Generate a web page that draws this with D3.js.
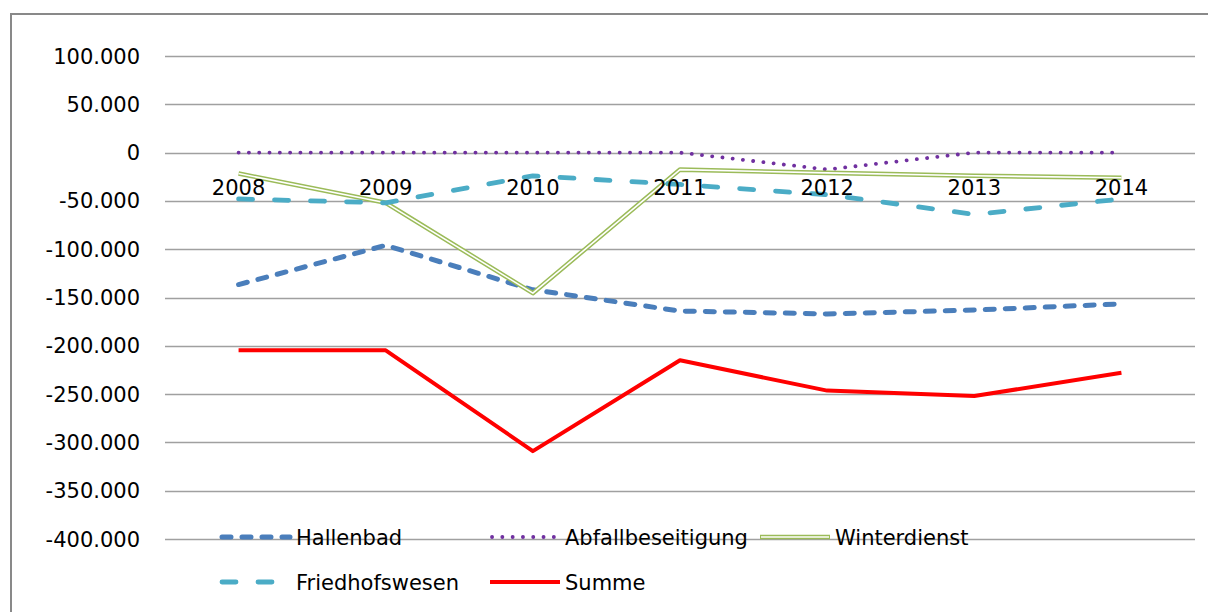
<!DOCTYPE html>
<html>
<head>
<meta charset="utf-8">
<script src="https://cdn.jsdelivr.net/npm/d3@7"></script>
<style>
  html, body { margin: 0; padding: 0; background: #fff; }
  svg { display: block; }
  text { font-family: "DejaVu Sans", sans-serif; font-size: 21px; fill: #000; }
</style>
</head>
<body>
<div id="chart"></div>
<script>
'use strict';

// values
var years = ['2008', '2009', '2010', '2011', '2012', '2013', '2014'];
var hallenbad = [-136600, -96000, -142000, -164000, -167000, -163000, -156600];
var abfallbeseitigung = [0, 0, 0, 0, -17500, 0, 0];
var winterdienst = [-21700, -52000, -145500, -17600, -21000, -24000, -26000];
var friedhofswesen = [-48000, -52000, -24000, -33000, -43500, -64000, -48000];
var summe = [-204700, -204700, -309000, -215000, -246400, -252000, -228000];
var yTicks = [100000, 50000, 0, -50000, -100000, -150000, -200000, -250000, -300000, -350000, -400000];

var series = [
  {name: 'Hallenbad', values: hallenbad, color: '#4A7EBB', width: 5, dash: '9,11', cap: 'round'},
  {name: 'Abfallbeseitigung', values: abfallbeseitigung, color: '#7030A0', width: 3.8, dash: '0.1,10.2', cap: 'round'},
  {name: 'Winterdienst', values: winterdienst, color: '#9BBB59', width: 4.6, dash: null, cap: 'butt', double: true},
  {name: 'Friedhofswesen', values: friedhofswesen, color: '#4BACC6', width: 4.8, dash: '14,22', cap: 'round'},
  {name: 'Summe', values: summe, color: '#FF0000', width: 4, dash: null, cap: 'butt'}
];

var W = 1208, H = 612;
var svg = d3.select('#chart').append('svg')
    .attr('width', W)
    .attr('height', H);

// outer chart border
svg.append('rect')
    .attr('x', 11).attr('y', 14)
    .attr('width', 1220).attr('height', 700)
    .attr('fill', '#fff')
    .attr('stroke', '#898989')
    .attr('stroke-width', 2);

var x = d3.scaleBand().domain(years).range([165, 1195]);
var y = d3.scaleLinear().domain([-400000, 100000]).range([539, 56]);

var fmt = function(v) {
  return d3.format(',')(v).replace(/,/g, '.').replace('−', '-');
};

// grid lines
svg.append('g')
  .selectAll('line')
  .data(yTicks)
  .enter().append('line')
    .attr('x1', 165).attr('x2', 1195)
    .attr('y1', function(d) { return Math.round(y(d)) + 0.5; })
    .attr('y2', function(d) { return Math.round(y(d)) + 0.5; })
    .attr('stroke', '#A0A0A0')
    .attr('stroke-width', 1.4);

// y labels
svg.append('g')
  .selectAll('text')
  .data(yTicks)
  .enter().append('text')
    .attr('x', 140)
    .attr('y', function(d) { return y(d) + 7.5; })
    .attr('text-anchor', 'end')
    .text(fmt);

var line = d3.line()
    .x(function(d, i) { return x(years[i]) + x.bandwidth() / 2; })
    .y(function(d) { return y(d); });

var lines = svg.append('g');
series.forEach(function(s) {
  var p = lines.append('path')
      .datum(s.values)
      .attr('d', line)
      .attr('fill', 'none')
      .attr('stroke', s.color)
      .attr('stroke-width', s.width)
      .attr('stroke-linecap', s.cap)
      .attr('stroke-linejoin', 'round');
  if (s.dash) { p.attr('stroke-dasharray', s.dash); }
  if (s.double) {
    lines.append('path')
        .datum(s.values)
        .attr('d', line)
        .attr('fill', 'none')
        .attr('stroke', '#fff')
        .attr('stroke-width', 1.6)
        .attr('stroke-linejoin', 'round');
  }
});

// category labels sit under the zero line
svg.append('g')
  .selectAll('text')
  .data(years)
  .enter().append('text')
    .attr('x', function(d) { return x(d) + x.bandwidth() / 2; })
    .attr('y', y(0) + 42)
    .attr('text-anchor', 'middle')
    .text(function(d) { return d; });

// legend, 3 columns
var legend = svg.append('g');
series.forEach(function(s, i) {
  var col = i % 3, row = Math.floor(i / 3);
  var lx = 220 + col * 270, ly = 537 + row * 45;
  var p = legend.append('line')
      .attr('x1', lx + (s.cap === 'round' ? 2 : 0)).attr('x2', lx + 70)
      .attr('y1', ly).attr('y2', ly)
      .attr('stroke', s.color)
      .attr('stroke-width', s.width)
      .attr('stroke-linecap', s.cap);
  if (s.dash) { p.attr('stroke-dasharray', s.dash); }
  if (s.double) {
    legend.append('line')
        .attr('x1', lx + 1).attr('x2', lx + 69)
        .attr('y1', ly).attr('y2', ly)
        .attr('stroke', '#fff')
        .attr('stroke-width', 1.6);
  }
  legend.append('text')
      .attr('x', lx + (col === 0 ? 76 : 75))
      .attr('y', ly + 7.5)
      .text(s.name);
});
</script>
</body>
</html>
